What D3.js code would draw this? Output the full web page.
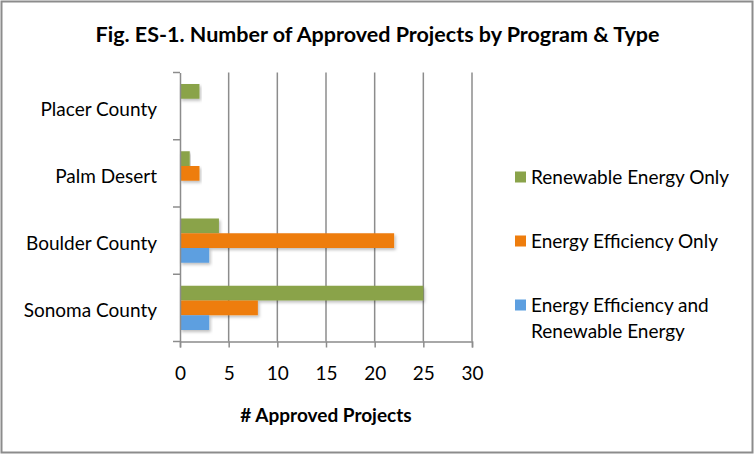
<!DOCTYPE html>
<html><head><meta charset="utf-8">
<script src="https://cdn.jsdelivr.net/npm/d3@7"></script>
<style>body{margin:0;background:#fff}svg{display:block}text{font-family:Lato,"Open Sans",sans-serif}</style>
</head><body><div id="chart"></div>
<script>
const categories = ["Placer County", "Palm Desert", "Boulder County", "Sonoma County"];
const seriesNames = ["Renewable Energy Only", "Energy Efficiency Only", "Energy Efficiency and Renewable Energy"];
const renewableOnly = [2, 1, 4, 25];
const efficiencyOnly = [0, 2, 22, 8];
const efficiencyAndRenewable = [0, 0, 3, 3];
const xTicks = [0, 5, 10, 15, 20, 25, 30];
const colors = ["#8aa34a", "#ee7d0d", "#5d9fe0"];
const title = "Fig. ES-1. Number of Approved Projects by Program & Type";
const xTitle = "# Approved Projects";

const W = 755, H = 455;
const svg = d3.select("#chart").append("svg").attr("width", W).attr("height", H);
const defs = svg.append("defs");
const f = defs.append("filter").attr("id","sh").attr("x","-5%").attr("y","-20%").attr("width","115%").attr("height","160%");
f.append("feDropShadow").attr("dx",1.5).attr("dy",2).attr("stdDeviation",1.5).attr("flood-color","#000").attr("flood-opacity",0.25);

svg.append("rect").attr("x",1.5).attr("y",1.5).attr("width",W-4).attr("height",H-4)
  .attr("fill","#fff").attr("stroke","#8c8c8c").attr("stroke-width",2);

const x = d3.scaleLinear().domain([0,30]).range([180,472]);
const y = d3.scaleBand().domain(categories).range([72.5,341.5]).padding(0);
const yInner = d3.scaleBand().domain(seriesNames).range([11.5, y.bandwidth()-11.5]).padding(0);
const gridColor = "#8c8c8c";

// grid
svg.append("g").selectAll("line").data(xTicks.slice(1)).join("line")
  .attr("x1", d=>x(d)).attr("x2", d=>x(d)).attr("y1", 72.5).attr("y2", 341.5)
  .attr("stroke", gridColor).attr("stroke-width", 1.5);

// bars
const data = categories.map((c,i)=>({cat:c, vals:[renewableOnly[i], efficiencyOnly[i], efficiencyAndRenewable[i]]}));
const groups = svg.append("g").selectAll("g").data(data).join("g")
  .attr("transform", d=>`translate(0,${y(d.cat)})`);
groups.selectAll("rect").data(d=>d.vals.map((v,j)=>({v, name:seriesNames[j], j})).filter(e=>e.v>0)).join("rect")
  .attr("x", x(0)).attr("y", e=>yInner(e.name)).attr("height", yInner.bandwidth())
  .attr("width", e=>x(e.v)-x(0)).attr("fill", e=>colors[e.j]).attr("filter","url(#sh)");

// x axis
const xAxis = d3.axisBottom(x).tickValues(xTicks).tickSize(6).tickPadding(19);
const gx = svg.append("g").attr("transform","translate(0,341.5)").call(xAxis);
gx.select(".domain").attr("stroke",gridColor).attr("stroke-width",1.5);
gx.selectAll(".tick line").attr("stroke",gridColor).attr("stroke-width",1.5);
gx.selectAll(".tick text").attr("font-size",19).attr("fill","#000").attr("font-family","Lato");

// y axis
const yAxis = d3.axisLeft(y).tickSize(0).tickPadding(23);
const gy = svg.append("g").attr("transform","translate(180,0)").call(yAxis);
gy.select(".domain").attr("stroke",gridColor).attr("stroke-width",1.5);
gy.selectAll(".tick text").attr("font-size",19).attr("fill","#000").attr("font-family","Lato")
  .attr("dy","0.5em");
// category boundary ticks
gy.append("g").selectAll("line").data(categories.concat(["__end"])).join("line")
  .attr("x1",-7).attr("x2",0)
  .attr("y1", (d,i)=> i<categories.length ? y(d) : y.range()[1])
  .attr("y2", (d,i)=> i<categories.length ? y(d) : y.range()[1])
  .attr("stroke",gridColor).attr("stroke-width",1.5);

// titles
svg.append("text").attr("x",377.5).attr("y",42).attr("text-anchor","middle")
  .attr("font-size",21.5).attr("font-weight","bold").text(title);
svg.append("text").attr("x",(x(0)+x(30))/2).attr("y",421.5).attr("text-anchor","middle")
  .attr("font-size",19).attr("font-weight","bold").text(xTitle);

// legend
const legendRows = [
  {lines:["Renewable Energy Only"], y:177},
  {lines:["Energy Efficiency Only"], y:241},
  {lines:["Energy Efficiency and","Renewable Energy"], y:305}
];
const lg = svg.append("g");
legendRows.forEach((r,i)=>{
  lg.append("rect").attr("x",515).attr("y",r.y-5.5).attr("width",11).attr("height",11).attr("fill",colors[i]);
  const t = lg.append("text").attr("x",531).attr("y",r.y+7).attr("font-size",19).attr("fill","#000");
  r.lines.forEach((l,k)=>t.append("tspan").attr("x",531).attr("dy",k===0?0:26).text(l));
});
</script></body></html>
